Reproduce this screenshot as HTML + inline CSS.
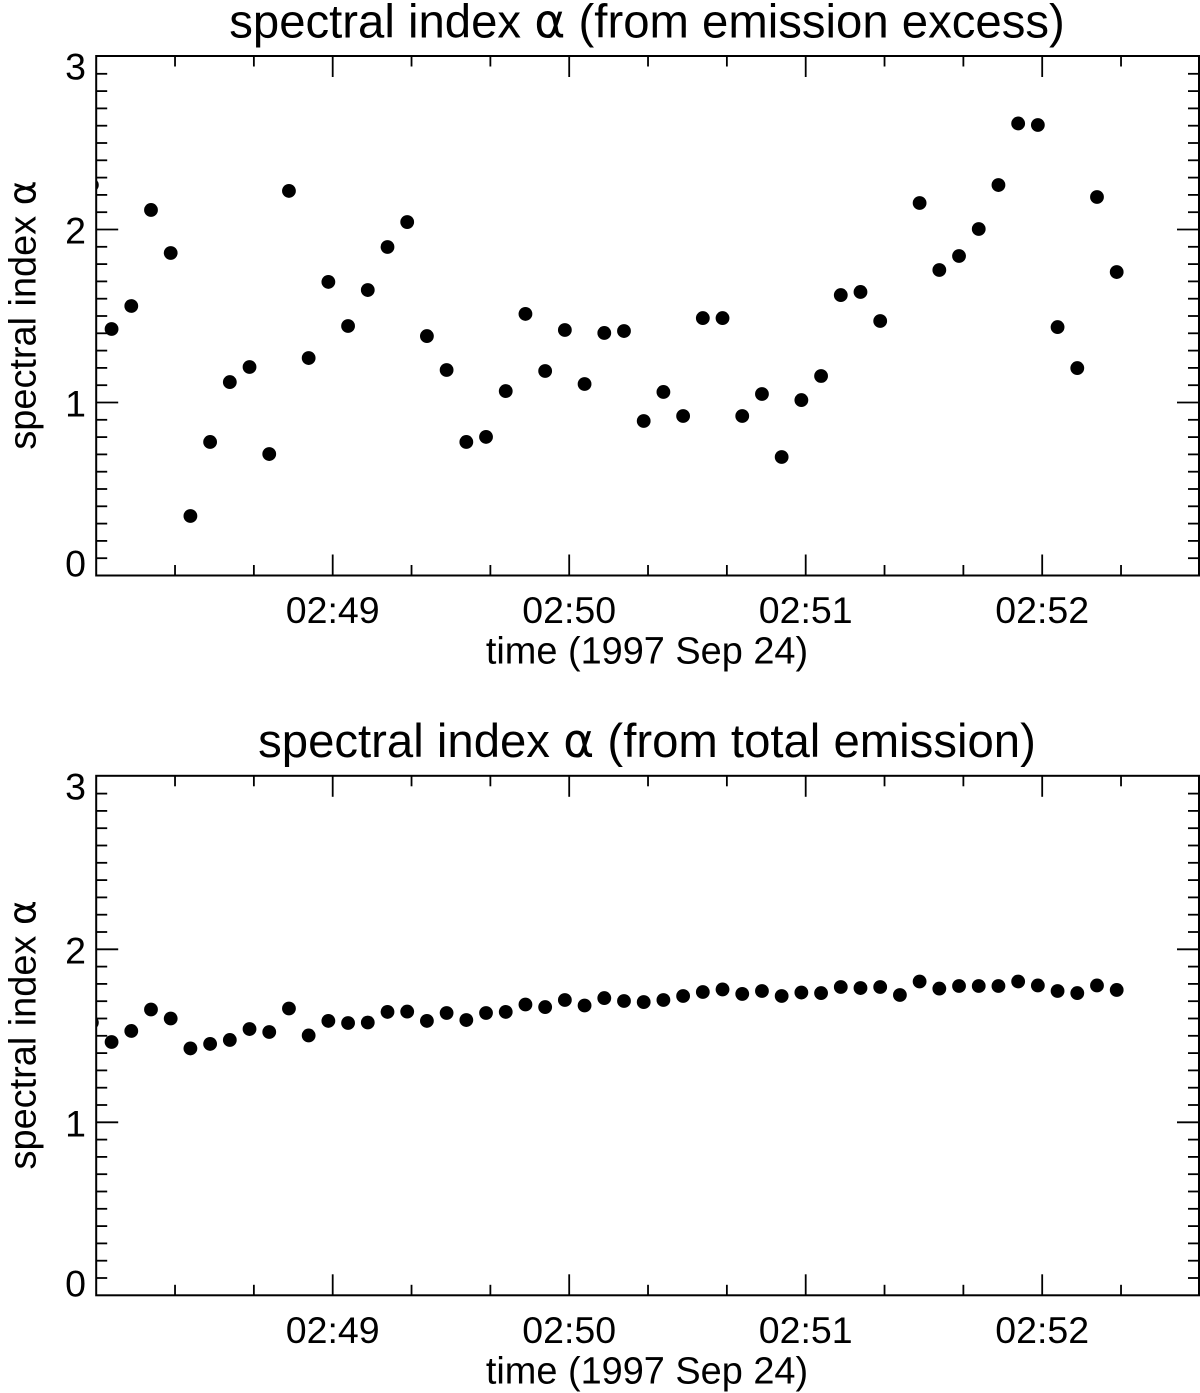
<!DOCTYPE html>
<html>
<head>
<meta charset="utf-8">
<title>spectral index</title>
<style>
html,body{margin:0;padding:0;background:#fff;}
svg{display:block;}
text{font-family:"Liberation Sans",sans-serif;fill:#000;}
.alpha{font-family:"DejaVu Sans",sans-serif;}
</style>
</head>
<body>
<svg id="chart" xmlns="http://www.w3.org/2000/svg" width="1200" height="1393" viewBox="0 0 1200 1393"></svg>
<script>
// seconds after 02:48:00
const sampleTimes = [-1.1,3.9,8.9,13.9,18.9,23.9,28.9,33.9,38.9,43.9,48.9,53.9,58.9,63.9,68.9,73.9,78.9,83.9,88.9,93.9,98.9,103.9,108.9,113.9,118.9,123.9,128.9,133.9,138.9,143.9,148.9,153.9,158.9,163.9,168.9,173.9,178.9,183.9,188.9,193.9,198.9,203.9,208.9,213.9,218.9,223.9,228.9,233.9,238.9,243.9,248.9,253.9,258.9];
const excessAlpha = [2.257,1.425,1.558,2.113,1.864,0.344,0.772,1.118,1.205,0.702,2.223,1.257,1.697,1.442,1.650,1.899,2.043,1.384,1.188,0.772,0.801,1.066,1.512,1.182,1.419,1.107,1.402,1.413,0.893,1.061,0.922,1.488,1.488,0.922,1.049,0.685,1.014,1.153,1.621,1.639,1.471,null,2.153,1.766,1.847,2.003,2.257,2.613,2.604,1.436,1.199,2.188,1.754];
const totalAlpha = [1.576,1.464,1.528,1.652,1.600,1.427,1.453,1.476,1.539,1.522,1.658,1.502,1.586,1.574,1.577,1.638,1.640,1.586,1.632,1.591,1.632,1.638,1.681,1.666,1.707,1.675,1.718,1.701,1.695,1.707,1.730,1.753,1.768,1.742,1.759,1.730,1.750,1.747,1.782,1.776,1.782,1.736,1.814,1.773,1.788,1.788,1.788,1.814,1.791,1.759,1.747,1.791,1.765];
const yTickValues = [0,1,2,3];
const xMajorMinutes = [1,2,3,4];
const xMajorLabels = ["02:49","02:50","02:51","02:52"];
const xMinorMinutes = [0.3333,0.6667,1.3333,1.6667,2.3333,2.6667,3.3333,3.6667,4.3333];
const xAxisTitle = "time (1997 Sep 24)";
const yAxisTitle = "spectral index ";

const svg = document.getElementById('chart');
const NS = 'http://www.w3.org/2000/svg';
const X0 = 96.2, X1 = 1199, PXMIN = 236.5, PXUNIT = 173, PH = 519.5;

function xOfSec(t){ return X0 + t * PXMIN / 60; }
function xOfMin(m){ return X0 + m * PXMIN; }

function mk(tag, parent, attrs){
  const el = document.createElementNS(NS, tag);
  for (const k in attrs) el.setAttribute(k, attrs[k]);
  parent.appendChild(el);
  return el;
}
function tick(parent, x1, y1, x2, y2){
  return mk('line', parent, {x1:x1, y1:y1, x2:x2, y2:y2, stroke:'#000', 'stroke-width':1.8});
}
function addTitleText(parent, x, y, size, before, after, anchor){
  const t = mk('text', parent, {x:x, y:y, 'font-size':size, 'text-anchor':anchor});
  t.appendChild(document.createTextNode(before));
  const a = mk('tspan', t, {class:'alpha'});
  a.textContent = 'α';
  if (after) t.appendChild(document.createTextNode(after));
  return t;
}

function drawPanel(id, bottom, values, titleAfter){
  const top = bottom - PH;
  const yOf = v => bottom - v * PXUNIT;

  const g = mk('g', svg, {});
  
  

  const title = addTitleText(g, 647, top - 18.7, 47.3, 'spectral index ', titleAfter, 'middle');
  
  

  const frame = mk('rect', g, {x:X0, y:top, width:X1 - X0, height:PH, fill:'none', stroke:'#000', 'stroke-width':2});
  
  

  const clip = mk('clipPath', g, {id:id + '-clip'});
  mk('rect', clip, {x:X0, y:top, width:X1 - X0, height:PH});

  // y ticks: a minor every tenth of a unit, a major on each integer
  const yMax = yTickValues[yTickValues.length - 1];
  for (let i = 1; i < yMax * 10; i++) {
    const major = i % 10 === 0;
    const len = major ? 22 : 11;
    const y = yOf(i / 10);
    const l = tick(g, X0, y, X0 + len, y);
    
    
    const r = tick(g, X1, y, X1 - len, y);
    
    
  }
  // x ticks
  xMajorMinutes.forEach(function(m, i){
    const x = xOfMin(m);
    const b = tick(g, x, bottom, x, bottom - 21);
    
    
    const t = tick(g, x, top, x, top + 21);
    
    
    const lab = mk('text', g, {x:x, y:bottom + 47.5, 'font-size':37.5, 'text-anchor':'middle'});
    lab.textContent = xMajorLabels[i];
    
    
  });
  xMinorMinutes.forEach(function(m){
    const x = xOfMin(m);
    const b = tick(g, x, bottom, x, bottom - 10.5);
    
    
    const t = tick(g, x, top, x, top + 10.5);
    
    
  });
  // y tick labels: the extreme labels are pulled inside the axis range
  yTickValues.forEach(function(v){
    const off = v === yMax ? 23 : (v === 0 ? 1 : 14);
    const lab = mk('text', g, {x:86, y:yOf(v) + off, 'font-size':37.5, 'text-anchor':'end'});
    lab.textContent = String(v);
    
    
  });

  const xt = mk('text', g, {x:647, y:bottom + 88, 'font-size':37.9, 'text-anchor':'middle'});
  xt.textContent = xAxisTitle;
  
  

  const yt = addTitleText(g, 0, 0, 37.9, yAxisTitle, '', 'middle');
  yt.setAttribute('transform', 'translate(35.5,' + (bottom - 260.5) + ') rotate(-90)');
  
  

  const pts = mk('g', g, {'clip-path':'url(#' + id + '-clip)'});
  
  
  values.forEach(function(v, i){
    if (v === null) return;
    const c = mk('circle', pts, {cx:xOfSec(sampleTimes[i]), cy:yOf(v), r:6.9, fill:'#000'});
    
    
  });
}

drawPanel('emission-excess', 575.5, excessAlpha, ' (from emission excess)');
drawPanel('total-emission', 1295.3, totalAlpha, ' (from total emission)');
</script>
</body>
</html>
